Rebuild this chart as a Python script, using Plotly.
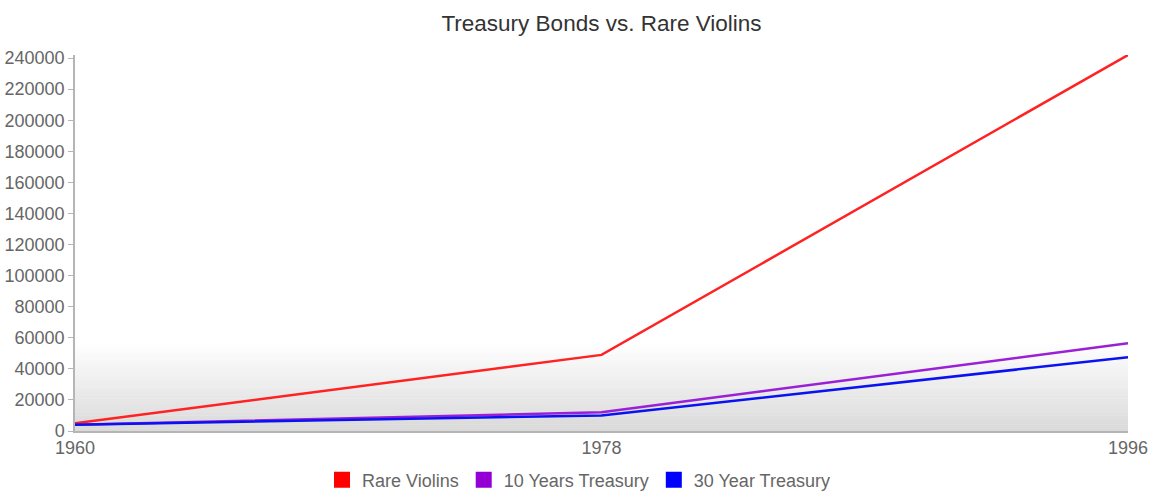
import plotly.graph_objects as go

years = [1960, 1978, 1996]
rare_violins = [5000, 49000, 242000]
treasury_10y = [4000, 12000, 56500]
treasury_30y = [4000, 10000, 47500]
series_names = ["Rare Violins", "10 Years Treasury", "30 Year Treasury"]
y_ticks = list(range(0, 240001, 20000))

line_colors = ["#ff2222", "#9a1fd6", "#0b12f2"]
swatch_colors = ["#ff0000", "#9400d3", "#0000ff"]

fig = go.Figure()

for name, values, color in zip(series_names, [rare_violins, treasury_10y, treasury_30y], line_colors):
    fig.add_trace(go.Scatter(
        x=years, y=values, mode="lines", name=name,
        line=dict(color=color, width=2.5), showlegend=False,
    ))

# Square legend swatches
for name, color in zip(series_names, swatch_colors):
    fig.add_trace(go.Scatter(
        x=[None], y=[None], mode="markers", name=name,
        marker=dict(symbol="square", size=20, color=color),
    ))

# Soft grey gradient along the bottom of the plot area
steps = 40
band = 0.23
for i in range(steps):
    t = i / steps
    shade = int(218 + (255 - 218) * t)
    fig.add_shape(
        type="rect", xref="x domain", yref="y domain",
        x0=0, x1=1, y0=band * t, y1=band * (t + 1 / steps) + 0.001,
        fillcolor=f"rgb({shade},{shade},{shade})", line=dict(width=0),
        layer="below",
    )

fig.update_layout(
    width=1157, height=493,
    margin=dict(l=75, r=29, t=55, b=62, autoexpand=False),
    paper_bgcolor="white", plot_bgcolor="white",
    font=dict(family="Liberation Sans, Arial, sans-serif", size=18, color="#666666"),
    title=dict(
        text="Treasury Bonds vs. Rare Violins",
        x=0.5, xref="paper", xanchor="center",
        y=1 - 23 / 493, yref="container", yanchor="middle",
        font=dict(size=22.5, color="#333333"),
    ),
    xaxis=dict(
        range=[1960, 1996], tickvals=years, ticktext=[str(y) for y in years],
        showgrid=False, zeroline=False, showline=True, linecolor="#b5b5b5",
        linewidth=1.5, ticks="", ticklen=0, fixedrange=True,
    ),
    yaxis=dict(
        range=[0, 242000], tickvals=y_ticks, ticktext=[str(v) for v in y_ticks],
        showgrid=False, zeroline=False, showline=True, linecolor="#b5b5b5",
        linewidth=1.5, ticks="outside", ticklen=5, tickcolor="#b5b5b5",
    ),
    legend=dict(
        orientation="h", xref="container", x=0.5, xanchor="center",
        yref="container", y=13 / 493, yanchor="middle",
        font=dict(size=18, color="#666666"),
    ),
)

fig.write_html("out.html")
